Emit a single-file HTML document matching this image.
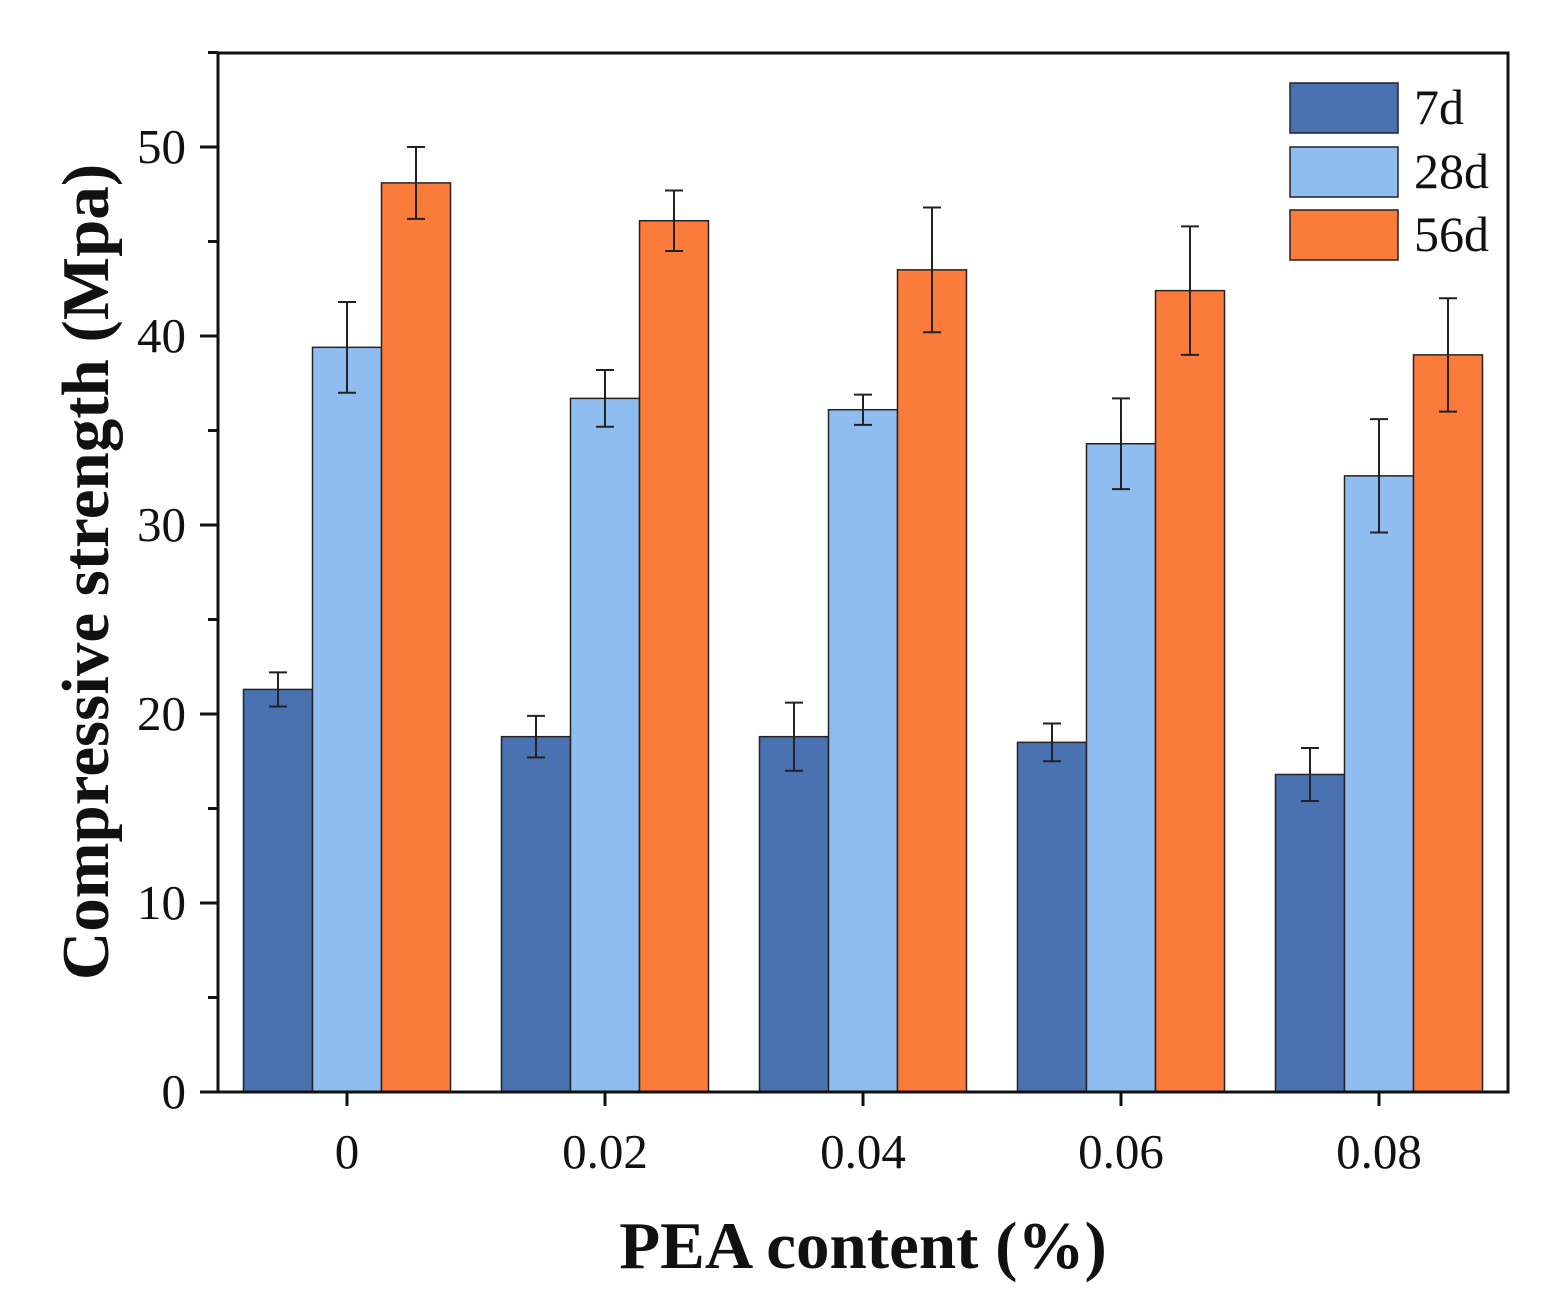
<!DOCTYPE html>
<html><head><meta charset="utf-8"><style>
body{margin:0;background:#fff}
svg text{font-family:"Liberation Serif",serif;fill:#111}
</style></head><body>
<svg id="chart" width="1558" height="1301" xmlns="http://www.w3.org/2000/svg">
<g id="marks"></g>
<rect x="218" y="53" width="1290" height="1039" fill="none" stroke="#111" stroke-width="3"/>
<g id="axes"></g>
<text transform="translate(108,572) rotate(-90)" text-anchor="middle" font-size="67" font-weight="bold">Compressive strength (Mpa)</text>
<text x="863" y="1268" text-anchor="middle" font-size="67" font-weight="bold">PEA content (%)</text>
<g>
<rect x="1290" y="83" width="108" height="50" fill="#4a72b0" stroke="#222" stroke-width="1.5"/>
<text x="1414" y="124" font-size="50">7d</text>
<rect x="1290" y="147" width="108" height="50" fill="#8fbdef" stroke="#222" stroke-width="1.5"/>
<text x="1414" y="188" font-size="50">28d</text>
<rect x="1290" y="210" width="108" height="50" fill="#fb7b3b" stroke="#222" stroke-width="1.5"/>
<text x="1414" y="251" font-size="50">56d</text>
</g>
</svg>
<script>
const categories=["0","0.02","0.04","0.06","0.08"];
const series7d=[21.3,18.8,18.8,18.5,16.8];
const err7d=[0.9,1.1,1.8,1.0,1.4];
const series28d=[39.4,36.7,36.1,34.3,32.6];
const err28d=[2.4,1.5,0.8,2.4,3.0];
const series56d=[48.1,46.1,43.5,42.4,39.0];
const err56d=[1.9,1.6,3.3,3.4,3.0];
const yTicks=[0,10,20,30,40,50];
const seriesNames=["7d","28d","56d"];
const NS="http://www.w3.org/2000/svg";
const y=v=>1092-v*18.9;
const xc=i=>347+i*258;
const bw=69;
const colors=["#4a72b0","#8fbdef","#fb7b3b"];
const vals=[series7d,series28d,series56d],errs=[err7d,err28d,err56d];
const marks=document.getElementById('marks'),axes=document.getElementById('axes');
function mk(tag,attrs,parent){const e=document.createElementNS(NS,tag);for(const k in attrs)e.setAttribute(k,attrs[k]);parent.appendChild(e);return e;}
categories.forEach((c,i)=>{
  vals.forEach((s,j)=>{
    const x0=xc(i)-1.5*bw+j*bw;
    const r=mk('rect',{x:x0,y:y(s[i]),width:bw,height:y(0)-y(s[i]),fill:colors[j],stroke:'#222','stroke-width':1.5},marks);
    
    
    const cx=x0+bw/2,t=y(s[i]+errs[j][i]),b=y(s[i]-errs[j][i]);
    const g=mk('path',{d:`M${cx},${t}V${b}M${cx-9},${t}H${cx+9}M${cx-9},${b}H${cx+9}`,stroke:'#222','stroke-width':2,fill:'none'},marks);
    
    
  });
  const tk=mk('line',{x1:xc(i),x2:xc(i),y1:1092,y2:1106,stroke:'#111','stroke-width':3},axes);
  
  
  const tl=mk('text',{x:xc(i),y:1168,'text-anchor':'middle','font-size':49},axes);
  tl.textContent=c;
  
  
});
yTicks.forEach(v=>{
  const tk=mk('line',{x1:200,x2:218,y1:y(v),y2:y(v),stroke:'#111','stroke-width':3},axes);
  
  
  const m=mk('line',{x1:208,x2:218,y1:y(v+5),y2:y(v+5),stroke:'#111','stroke-width':3},axes);
  
  
  const tl=mk('text',{x:186,y:y(v)+16,'text-anchor':'end','font-size':49},axes);
  tl.textContent=v;
  
  
});
</script>
</body></html>
